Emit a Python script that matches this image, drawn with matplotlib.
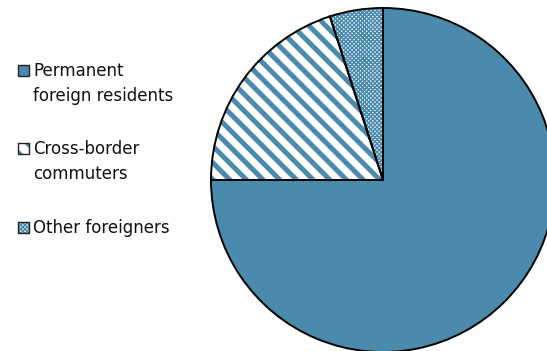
import matplotlib.pyplot as plt
from matplotlib.patches import Rectangle

labels = ["Permanent\nforeign residents", "Cross-border\ncommuters", "Other foreigners"]
shares = [75, 20, 5]

blue = "#4a8bad"
faces = [blue, "white", "white"]
hatches = [None, "\\\\", "xxxxxxxx"]
hatch_lw = [1.0, 3.6, 1.1]

W, H, dpi = 547, 351, 100
plt.rcParams['font.family'] = ['DejaVu Sans']

fig = plt.figure(figsize=(W / dpi, H / dpi), dpi=dpi)
# pie centre at (383, 180) px, radius 172 px
ax = fig.add_axes([(383 - 172) / W, (H - 180 - 172) / H, 344 / W, 344 / H])

# fill + hatches (hatch colour comes from edge colour)
wedges, _ = ax.pie(shares, startangle=90, counterclock=False, radius=1,
                   colors=faces, hatch=hatches,
                   wedgeprops=dict(edgecolor=blue, linewidth=0))
for w, lw in zip(wedges, hatch_lw):
    if hasattr(w, "set_hatch_linewidth"):
        w.set_hatch_linewidth(lw)
# black outlines on top
ax.pie(shares, startangle=90, counterclock=False, radius=1,
       colors=["none"] * 3,
       wedgeprops=dict(edgecolor="black", linewidth=1.4, facecolor="none"))
ax.set_xlim(-1, 1)
ax.set_ylim(-1, 1)
ax.set_aspect("equal")
ax.axis("off")

# legend drawn by hand so the box sits on the first line
baselines = [76, 154, 233]
for label, face, hatch, lw, base in zip(labels, faces, hatches, hatch_lw, baselines):
    y0 = base - 11
    r = Rectangle((17.5 / W, 1 - (y0 + 11) / H), 11 / W, 11 / H, transform=fig.transFigure,
                  facecolor=face, hatch=hatch, edgecolor=blue, linewidth=0)
    if hasattr(r, "set_hatch_linewidth"):
        r.set_hatch_linewidth(min(lw, 2.5))
    fig.add_artist(r)
    fig.add_artist(Rectangle((17.5 / W, 1 - (y0 + 11) / H), 11 / W, 11 / H,
                             transform=fig.transFigure, facecolor="none",
                             edgecolor="#222222", linewidth=1.0))
    for j, line in enumerate(label.split("\n")):
        fig.text(33 / W, 1 - (base + 25 * j) / H, line, fontsize=12,
                 ha="left", va="baseline", color="#111111")

fig.savefig("out.png", dpi=dpi)
